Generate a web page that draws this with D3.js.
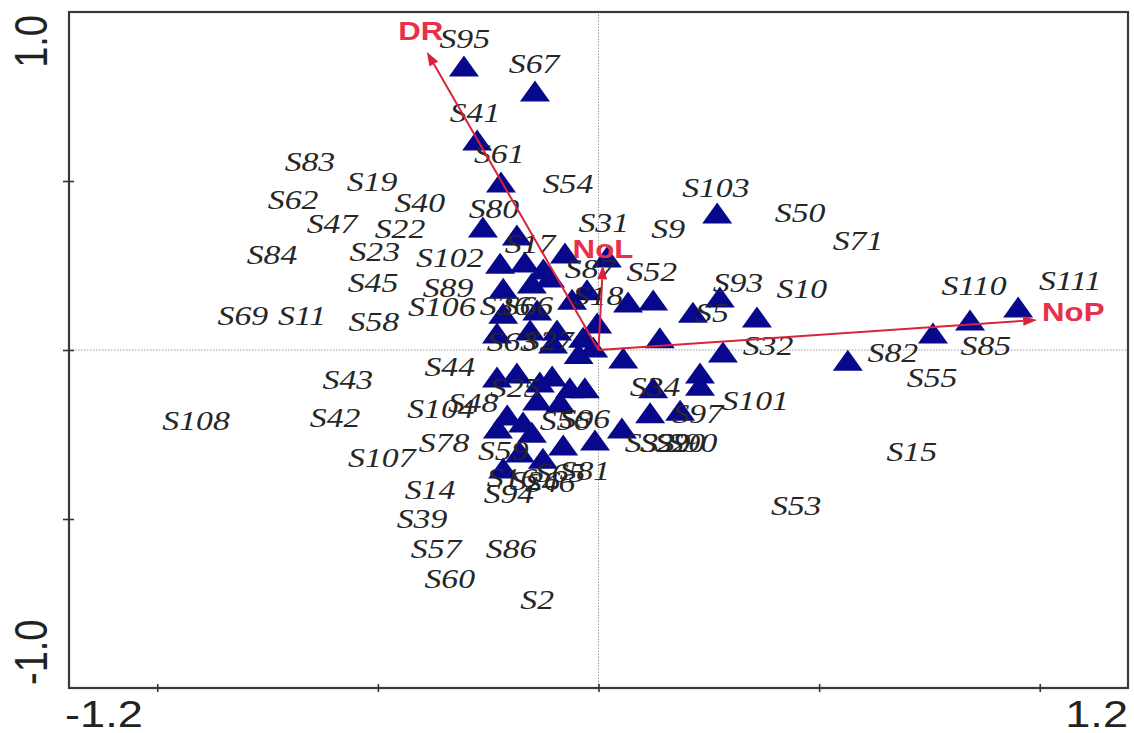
<!DOCTYPE html>
<html>
<head>
<meta charset="utf-8">
<script src="https://cdn.jsdelivr.net/npm/d3@7"></script>
<style>
html,body{margin:0;padding:0;background:#fff;}
svg{display:block;}
</style>
</head>
<body>
<svg id="chart" width="1134" height="733"></svg>
<script>
// ---------- DATA ----------
const xDomain = [-1.2, 1.2];
const yDomain = [-1.0, 1.0];
const xTickValues = [-1.0, -0.5, 0, 0.5, 1.0];
const yTickValues = [-0.5, 0, 0.5];
const xEndLabels = ["-1.2", "1.2"];
const yEndLabels = ["-1.0", "1.0"];

// environmental vectors
const vectorNames = ["DR", "NoL", "NoP"];
const vectorX = [-0.389, 0.010, 0.994];
const vectorY = [0.882, 0.251, 0.089];

// species scores (triangles)
const triX = [-0.305,-0.144,-0.275,-0.221,0.269,-0.262,-0.185,-0.223,-0.167,-0.076,0.019,-0.216,-0.151,-0.110,-0.026,0.067,0.124,0.214,0.275,0.359,-0.216,-0.139,-0.094,-0.035,-0.003,-0.230,-0.155,-0.103,-0.012,0.056,0.139,0.282,0.565,0.758,0.842,0.951,-0.230,-0.185,-0.133,-0.105,-0.065,-0.031,-0.087,-0.207,-0.171,-0.151,-0.080,-0.008,0.053,-0.178,-0.126,-0.216,0.230,0.230,0.124,0.117,0.185,-0.139,-0.228,-0.060,-0.125,-0.045];
const triY = [0.840,0.766,0.621,0.497,0.405,0.364,0.340,0.257,0.260,0.287,0.275,0.183,0.198,0.216,0.178,0.142,0.148,0.112,0.157,0.098,0.109,0.118,0.059,0.038,0.080,0.050,0.059,0.021,0.009,-0.024,0.036,-0.006,-0.030,0.050,0.089,0.127,-0.080,-0.068,-0.095,-0.077,-0.112,-0.112,-0.154,-0.192,-0.213,-0.243,-0.281,-0.266,-0.231,-0.302,-0.320,-0.349,-0.068,-0.104,-0.112,-0.186,-0.178,-0.148,-0.231,0.150,0.240,-0.010];

// sample scores (labels)
const sampleNames = ["S95","S67","S41","S61","S83","S19","S54","S103","S62","S40","S80","S50","S47","S22","S31","S9","S71","S84","S23","S102","S17","S52","S87","S45","S89","S93","S10","S110","S111","S18","S5","S69","S11","S58","S106","S36","S66","S63","S27","S32","S82","S85","S44","S43","S55","S25","S34","S101","S42","S108","S104","S48","S56","S96","S97","S78","S59","S33","S29","S20","S90","S107","S15","S81","S65","S16","S26","S46","S94","S14","S53","S39","S57","S86","S60","S2"];
const sampleX = [-0.303,-0.146,-0.280,-0.225,-0.654,-0.513,-0.069,0.266,-0.692,-0.405,-0.237,0.457,-0.604,-0.450,0.012,0.158,0.588,-0.740,-0.507,-0.337,-0.155,0.121,-0.019,-0.511,-0.341,0.316,0.461,0.851,1.069,-0.001,0.257,-0.806,-0.672,-0.509,-0.355,-0.212,-0.160,-0.196,-0.114,0.384,0.667,0.878,-0.337,-0.568,0.756,-0.189,0.128,0.355,-0.597,-0.912,-0.357,-0.284,-0.076,-0.031,0.225,-0.350,-0.216,0.117,0.151,0.185,0.212,-0.491,0.710,-0.031,-0.087,-0.196,-0.144,-0.110,-0.203,-0.382,0.448,-0.400,-0.368,-0.198,-0.337,-0.139];
const sampleY = [0.920,0.846,0.701,0.580,0.556,0.497,0.491,0.479,0.444,0.435,0.417,0.405,0.373,0.358,0.376,0.358,0.322,0.281,0.290,0.272,0.314,0.231,0.240,0.198,0.183,0.198,0.180,0.189,0.204,0.160,0.109,0.101,0.101,0.083,0.127,0.130,0.130,0.024,0.027,0.012,-0.009,0.012,-0.050,-0.089,-0.083,-0.112,-0.109,-0.151,-0.201,-0.210,-0.175,-0.157,-0.210,-0.204,-0.189,-0.275,-0.299,-0.275,-0.275,-0.275,-0.275,-0.320,-0.302,-0.358,-0.364,-0.379,-0.388,-0.393,-0.426,-0.414,-0.462,-0.500,-0.589,-0.589,-0.678,-0.740];

// ---------- DRAW ----------
const plot = {left: 69, right: 1128, top: 12, bottom: 688};
const svg = d3.select("#chart");
const x = d3.scaleLinear().domain(xDomain).range([plot.left, plot.right]);
const y = d3.scaleLinear().domain(yDomain).range([plot.bottom, plot.top]);
const stretch = 1.22;

// zero lines
svg.append("line").attr("x1", x(xDomain[0])).attr("x2", x(xDomain[1]))
  .attr("y1", y(0)).attr("y2", y(0))
  .attr("stroke", "#9a9a9a").attr("stroke-width", 1).attr("stroke-dasharray", "1.5,1.5");
svg.append("line").attr("x1", x(0)).attr("x2", x(0))
  .attr("y1", y(yDomain[0])).attr("y2", y(yDomain[1]))
  .attr("stroke", "#9a9a9a").attr("stroke-width", 1).attr("stroke-dasharray", "1.5,1.5");

// frame
svg.append("rect").attr("x", plot.left).attr("y", plot.top)
  .attr("width", plot.right - plot.left).attr("height", plot.bottom - plot.top)
  .attr("fill", "none").attr("stroke", "#3a3a3a").attr("stroke-width", 2.2);

// axes (ticks only)
const gx = svg.append("g").attr("transform", `translate(0,${plot.bottom})`)
  .call(d3.axisBottom(x).tickValues(xTickValues).tickFormat("").tickSizeOuter(0).tickSizeInner(5));
gx.select(".domain").remove();
gx.selectAll(".tick line").attr("y1", -4).attr("y2", 4).attr("stroke", "#333").attr("stroke-width", 1.6);
const gy = svg.append("g").attr("transform", `translate(${plot.left},0)`)
  .call(d3.axisLeft(y).tickValues(yTickValues).tickFormat("").tickSizeOuter(0).tickSizeInner(5));
gy.select(".domain").remove();
gy.selectAll(".tick line").attr("x1", -6).attr("x2", 5).attr("stroke", "#333").attr("stroke-width", 1.6);

// end labels
const axFont = "'Liberation Sans', Arial, sans-serif";
svg.append("text").text(xEndLabels[0])
  .attr("transform", `translate(${x(xDomain[0]) - 4},727) scale(${stretch},1)`)
  .attr("text-anchor", "start").attr("font-family", axFont).attr("font-size", 37).attr("fill", "#222");
svg.append("text").text(xEndLabels[1])
  .attr("transform", `translate(${x(xDomain[1])},727) scale(${stretch},1)`)
  .attr("text-anchor", "end").attr("font-family", axFont).attr("font-size", 37).attr("fill", "#222");
svg.append("text").text(yEndLabels[0])
  .attr("transform", `translate(47,${y(yDomain[0]) - 3}) scale(${stretch},1) rotate(-90)`)
  .attr("text-anchor", "start").attr("font-family", axFont).attr("font-size", 38).attr("fill", "#222");
svg.append("text").text(yEndLabels[1])
  .attr("transform", `translate(47,${y(yDomain[1]) + 3}) scale(${stretch},1) rotate(-90)`)
  .attr("text-anchor", "end").attr("font-family", axFont).attr("font-size", 38).attr("fill", "#222");

// triangles
const triW = 30, triH = 21;
const tris = triX.map((v, i) => ({x: v, y: triY[i]}));
svg.append("g").selectAll("path").data(tris).join("path")
  .attr("d", d => {
    const cx = x(d.x), cy = y(d.y);
    return `M${cx},${cy - triH/2} L${cx + triW/2},${cy + triH/2} L${cx - triW/2},${cy + triH/2} Z`;
  })
  .attr("fill", "#08088c");

// sample labels
const samples = sampleNames.map((n, i) => ({name: n, x: sampleX[i], y: sampleY[i]}));
svg.append("g").selectAll("text").data(samples).join("text")
  .attr("transform", d => `translate(${x(d.x)},${y(d.y)}) scale(1.25,1)`)
  .attr("dy", "0.33em")
  .attr("text-anchor", "middle")
  .attr("font-family", "'Liberation Serif', 'Times New Roman', serif")
  .attr("font-style", "italic")
  .attr("font-size", 27)
  .attr("fill", "#262626")
  .text(d => d.name);

// vectors
const vecColor = "#d8243a";
const vectors = vectorNames.map((n, i) => ({name: n, x: vectorX[i], y: vectorY[i]}));
const gv = svg.append("g");
vectors.forEach(v => {
  const x0 = x(0), y0 = y(0), x1 = x(v.x), y1 = y(v.y);
  const dx = x1 - x0, dy = y1 - y0, len = Math.hypot(dx, dy);
  const ux = dx / len, uy = dy / len;
  const hl = 14, hw = 5;
  const bx = x1 - ux * hl, by = y1 - uy * hl;
  gv.append("line").attr("x1", x0).attr("y1", y0).attr("x2", bx).attr("y2", by)
    .attr("stroke", vecColor).attr("stroke-width", 2);
  gv.append("path")
    .attr("d", `M${x1},${y1} L${bx - uy * hw},${by + ux * hw} L${bx + uy * hw},${by - ux * hw} Z`)
    .attr("fill", vecColor);
});
// vector labels
const vLab = {
  DR:  {dx: -6, dy: -12, anchor: "middle"},
  NoL: {dx: 0,  dy: -7,  anchor: "middle"},
  NoP: {dx: 5,  dy: 1,   anchor: "start"}
};
gv.selectAll("text").data(vectors).join("text")
  .attr("transform", d => `translate(${x(d.x) + vLab[d.name].dx},${y(d.y) + vLab[d.name].dy}) scale(1.2,1)`)
  .attr("text-anchor", d => vLab[d.name].anchor)
  .attr("font-family", axFont).attr("font-weight", "bold").attr("font-size", 26)
  .attr("fill", "#e8304a")
  .text(d => d.name);
</script>
</body>
</html>
